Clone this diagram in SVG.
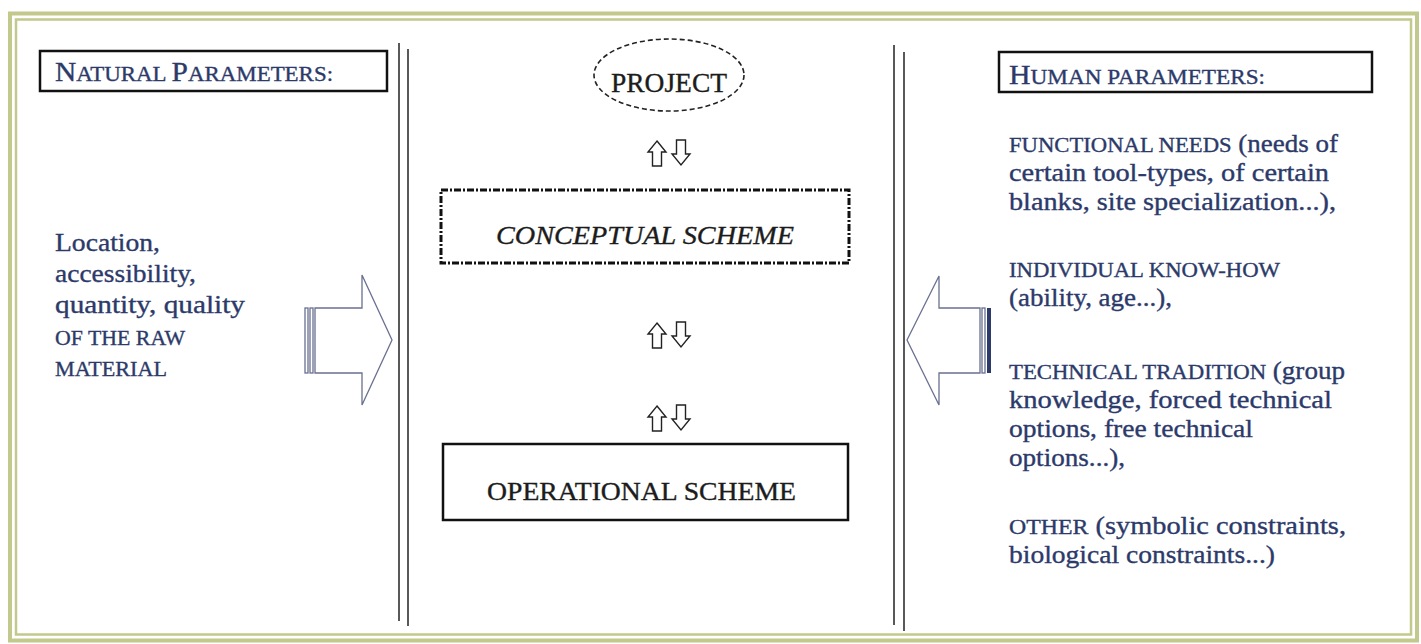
<svg xmlns="http://www.w3.org/2000/svg" width="1421" height="644" viewBox="0 0 1421 644">
<style>
.frame{fill:none;stroke:#c3c88c}
.vline{stroke:#222;stroke-width:1.5}
.box{fill:#fff;stroke:#111;stroke-width:2.5}
.cbox{fill:#fff;stroke:#111;stroke-width:3;stroke-dasharray:7 2 2 2}
.ell{fill:#fff;stroke:#222;stroke-width:1.6;stroke-dasharray:5 3}
text{font-family:"Liberation Serif","Times New Roman",serif}
.blue{fill:#2c3a6a;stroke:#2c3a6a;stroke-width:0.35}
.dark{fill:#1c1c1c;stroke:#1c1c1c;stroke-width:0.35}
.big{stroke:#6a7090;stroke-width:1.3;fill:#fff}
.sm{stroke:#222;stroke-width:1.4;fill:#fff}
</style>
<rect width="1421" height="644" fill="#fff"/>
<g id="frame">
<rect class="frame" x="10" y="13.5" width="1407" height="627" stroke-width="4"/>
<rect class="frame" x="16" y="19.5" width="1395" height="615" stroke-width="2.5"/>
</g>
<g id="dividers">
<line class="vline" x1="399" y1="43" x2="399" y2="621"/>
<line class="vline" x1="408" y1="49" x2="408" y2="626"/>
<line class="vline" x1="894" y1="45" x2="894" y2="625"/>
<line class="vline" x1="904" y1="52" x2="904" y2="631"/>
</g>
<g id="natural-header">
<rect class="box" x="40" y="51" width="347" height="40" stroke-width="2"/>
<text class="blue" x="55" y="81" textLength="278" lengthAdjust="spacingAndGlyphs"><tspan font-size="27">N</tspan><tspan font-size="21">ATURAL </tspan><tspan font-size="27">P</tspan><tspan font-size="21">ARAMETERS:</tspan></text>
</g>
<g id="natural-text">
<text class="blue" font-size="26" x="55" y="251" textLength="105" lengthAdjust="spacingAndGlyphs">Location,</text>
<text class="blue" font-size="26" x="55" y="282" textLength="141" lengthAdjust="spacingAndGlyphs">accessibility,</text>
<text class="blue" font-size="26" x="55" y="313" textLength="190" lengthAdjust="spacingAndGlyphs">quantity, quality</text>
<text class="blue" font-size="22" x="55" y="345" textLength="130" lengthAdjust="spacingAndGlyphs">OF THE RAW</text>
<text class="blue" font-size="22" x="55" y="376" textLength="112" lengthAdjust="spacingAndGlyphs">MATERIAL</text>
</g>
<g id="natural-arrow">
<rect class="big" x="305" y="308" width="3" height="65"/>
<rect class="big" x="310" y="308" width="3" height="65"/>
<path class="big" d="M315,308 L362,308 L362,275 L392,340 L362,405 L362,373 L315,373 Z"/>
</g>
<g id="project">
<ellipse class="ell" cx="669" cy="75" rx="75" ry="36"/>
<text class="dark" x="611" y="92" font-size="27" textLength="116" lengthAdjust="spacingAndGlyphs">PROJECT</text>
</g>
<g id="conceptual">
<rect class="cbox" x="441" y="190" width="408" height="73"/>
<text class="dark" x="496" y="244" font-size="26" font-style="italic" textLength="298" lengthAdjust="spacingAndGlyphs">CONCEPTUAL SCHEME</text>
</g>
<g id="operational">
<rect class="box" x="443" y="444" width="405" height="76"/>
<text class="dark" x="487" y="500" font-size="26" textLength="309" lengthAdjust="spacingAndGlyphs">OPERATIONAL SCHEME</text>
</g>
<g id="connectors">
<defs>
<path id="up" d="M0,0 L9,11 L4.5,11 L4.5,25 L-4.5,25 L-4.5,11 L-9,11 Z"/>
<path id="down" d="M-4.5,0 L4.5,0 L4.5,14 L9,14 L0,25 L-9,14 L-4.5,14 Z"/>
</defs>
<use href="#up" class="sm" x="657" y="141"/>
<use href="#down" class="sm" x="681" y="140"/>
<use href="#up" class="sm" x="657" y="323"/>
<use href="#down" class="sm" x="681" y="322"/>
<use href="#up" class="sm" x="657" y="406"/>
<use href="#down" class="sm" x="681" y="405"/>
</g>
<g id="human-header">
<rect class="box" x="999" y="52" width="373" height="40" stroke-width="2"/>
<text class="blue" x="1009" y="84" textLength="256" lengthAdjust="spacingAndGlyphs"><tspan font-size="27">H</tspan><tspan font-size="21">UMAN PARAMETERS:</tspan></text>
</g>
<g id="human-arrow">
<path class="big" d="M907,340 L939,276 L939,308 L980,308 L980,373 L939,373 L939,405 Z"/>
<rect class="big" x="982" y="308" width="3" height="65"/>
<rect x="987" y="308" width="4" height="65" fill="#2c3a6a"/>
</g>
<g id="human-text">
<text class="blue" font-size="25" x="1009" y="152" textLength="329" lengthAdjust="spacingAndGlyphs"><tspan font-size="21">FUNCTIONAL NEEDS</tspan> (needs of</text>
<text class="blue" font-size="25" x="1009" y="181" textLength="320" lengthAdjust="spacingAndGlyphs">certain tool-types, of certain</text>
<text class="blue" font-size="25" x="1009" y="210" textLength="327" lengthAdjust="spacingAndGlyphs">blanks, site specialization...),</text>
<text class="blue" font-size="21" x="1009" y="277" textLength="271" lengthAdjust="spacingAndGlyphs">INDIVIDUAL KNOW-HOW</text>
<text class="blue" font-size="25" x="1009" y="306" textLength="163" lengthAdjust="spacingAndGlyphs">(ability, age...),</text>
<text class="blue" font-size="25" x="1009" y="379" textLength="336" lengthAdjust="spacingAndGlyphs"><tspan font-size="21">TECHNICAL TRADITION</tspan> (group</text>
<text class="blue" font-size="25" x="1009" y="408" textLength="323" lengthAdjust="spacingAndGlyphs">knowledge, forced technical</text>
<text class="blue" font-size="25" x="1009" y="437" textLength="244" lengthAdjust="spacingAndGlyphs">options, free technical</text>
<text class="blue" font-size="25" x="1009" y="466" textLength="116" lengthAdjust="spacingAndGlyphs">options...),</text>
<text class="blue" font-size="25" x="1009" y="534" textLength="337" lengthAdjust="spacingAndGlyphs"><tspan font-size="21">OTHER</tspan>  (symbolic constraints,</text>
<text class="blue" font-size="25" x="1009" y="563" textLength="266" lengthAdjust="spacingAndGlyphs">biological constraints...)</text>
</g>
</svg>
